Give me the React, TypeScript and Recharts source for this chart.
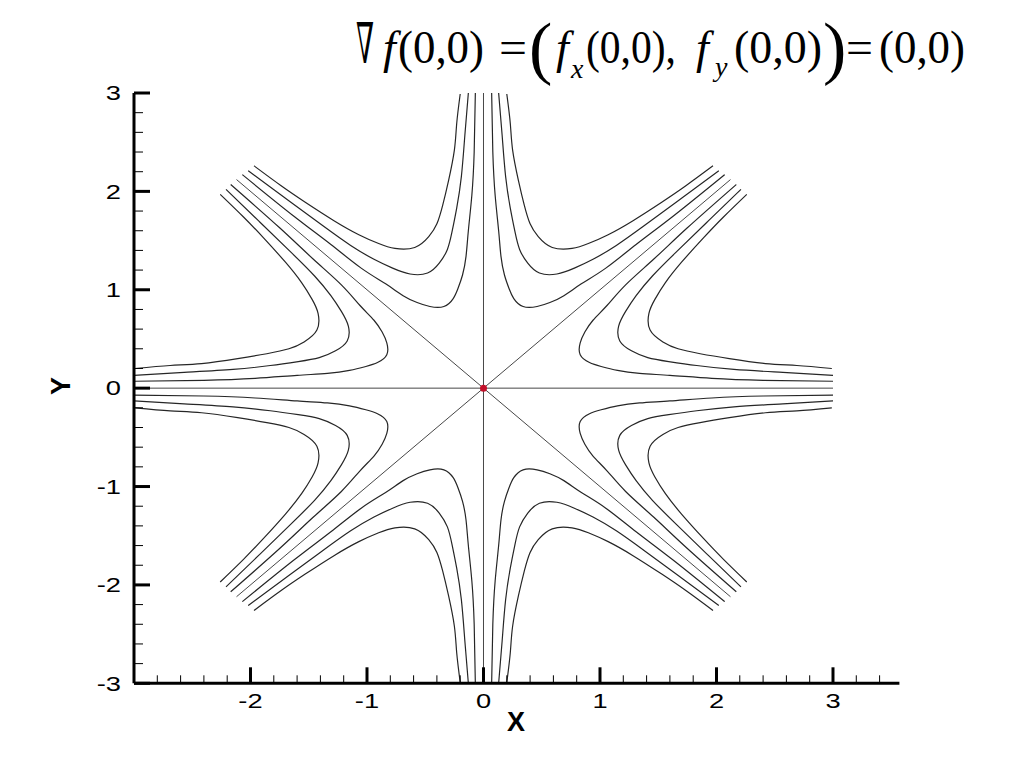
import React from 'react';
import { LineChart, Line, XAxis, YAxis, ReferenceDot } from 'recharts';

type P = [number, number];

// contour curves (three levels in each of the eight sectors)
const ene1: P[] = [[3.00,0.07],[2.40,0.08],[1.96,0.10],[1.60,0.13],[1.34,0.15],[1.15,0.18],[1.01,0.22],[0.91,0.26],[0.83,0.34],[0.83,0.46],[0.87,0.57],[0.94,0.69],[1.06,0.84],[1.22,1.05],[1.46,1.31],[1.75,1.63],[2.17,2.07]];
const ene2: P[] = [[3.00,0.13],[2.57,0.16],[2.15,0.19],[1.83,0.23],[1.59,0.27],[1.41,0.31],[1.27,0.38],[1.17,0.48],[1.16,0.63],[1.22,0.78],[1.31,0.94],[1.45,1.14],[1.66,1.39],[1.93,1.70],[2.21,2.02]];
const ene3: P[] = [[2.99,0.20],[2.69,0.23],[2.42,0.25],[2.11,0.30],[1.86,0.35],[1.67,0.40],[1.54,0.47],[1.43,0.59],[1.42,0.76],[1.47,0.90],[1.56,1.07],[1.70,1.28],[1.89,1.53],[2.06,1.74],[2.26,1.97]];

const nne1: P[] = [[0.07,3.00],[0.08,2.40],[0.10,1.96],[0.13,1.60],[0.15,1.34],[0.18,1.15],[0.22,1.01],[0.26,0.91],[0.34,0.83],[0.46,0.83],[0.57,0.87],[0.69,0.94],[0.84,1.06],[1.05,1.22],[1.31,1.46],[1.63,1.75],[2.07,2.17]];
const nne2: P[] = [[0.13,3.00],[0.16,2.57],[0.19,2.15],[0.23,1.83],[0.27,1.59],[0.31,1.41],[0.38,1.27],[0.48,1.17],[0.63,1.16],[0.78,1.22],[0.94,1.31],[1.14,1.45],[1.39,1.66],[1.70,1.93],[2.02,2.21]];
const nne3: P[] = [[0.20,2.99],[0.23,2.69],[0.25,2.42],[0.30,2.11],[0.35,1.86],[0.40,1.67],[0.47,1.54],[0.59,1.43],[0.76,1.42],[0.90,1.47],[1.07,1.56],[1.28,1.70],[1.53,1.89],[1.74,2.06],[1.97,2.26]];

const nnw1: P[] = [[-0.07,3.00],[-0.08,2.40],[-0.10,1.96],[-0.13,1.60],[-0.15,1.34],[-0.18,1.15],[-0.22,1.01],[-0.26,0.91],[-0.34,0.83],[-0.46,0.83],[-0.57,0.87],[-0.69,0.94],[-0.84,1.06],[-1.05,1.22],[-1.31,1.46],[-1.63,1.75],[-2.07,2.17]];
const nnw2: P[] = [[-0.13,3.00],[-0.16,2.57],[-0.19,2.15],[-0.23,1.83],[-0.27,1.59],[-0.31,1.41],[-0.38,1.27],[-0.48,1.17],[-0.63,1.16],[-0.78,1.22],[-0.94,1.31],[-1.14,1.45],[-1.39,1.66],[-1.70,1.93],[-2.02,2.21]];
const nnw3: P[] = [[-0.20,2.99],[-0.23,2.69],[-0.25,2.42],[-0.30,2.11],[-0.35,1.86],[-0.40,1.67],[-0.47,1.54],[-0.59,1.43],[-0.76,1.42],[-0.90,1.47],[-1.07,1.56],[-1.28,1.70],[-1.53,1.89],[-1.74,2.06],[-1.97,2.26]];

const wnw1: P[] = [[-3.00,0.07],[-2.40,0.08],[-1.96,0.10],[-1.60,0.13],[-1.34,0.15],[-1.15,0.18],[-1.01,0.22],[-0.91,0.26],[-0.83,0.34],[-0.83,0.46],[-0.87,0.57],[-0.94,0.69],[-1.06,0.84],[-1.22,1.05],[-1.46,1.31],[-1.75,1.63],[-2.17,2.07]];
const wnw2: P[] = [[-3.00,0.13],[-2.57,0.16],[-2.15,0.19],[-1.83,0.23],[-1.59,0.27],[-1.41,0.31],[-1.27,0.38],[-1.17,0.48],[-1.16,0.63],[-1.22,0.78],[-1.31,0.94],[-1.45,1.14],[-1.66,1.39],[-1.93,1.70],[-2.21,2.02]];
const wnw3: P[] = [[-2.99,0.20],[-2.69,0.23],[-2.42,0.25],[-2.11,0.30],[-1.86,0.35],[-1.67,0.40],[-1.54,0.47],[-1.43,0.59],[-1.42,0.76],[-1.47,0.90],[-1.56,1.07],[-1.70,1.28],[-1.89,1.53],[-2.06,1.74],[-2.26,1.97]];

const wsw1: P[] = [[-3.00,-0.07],[-2.40,-0.08],[-1.96,-0.10],[-1.60,-0.13],[-1.34,-0.15],[-1.15,-0.18],[-1.01,-0.22],[-0.91,-0.26],[-0.83,-0.34],[-0.83,-0.46],[-0.87,-0.57],[-0.94,-0.69],[-1.06,-0.84],[-1.22,-1.05],[-1.46,-1.31],[-1.75,-1.63],[-2.17,-2.07]];
const wsw2: P[] = [[-3.00,-0.13],[-2.57,-0.16],[-2.15,-0.19],[-1.83,-0.23],[-1.59,-0.27],[-1.41,-0.31],[-1.27,-0.38],[-1.17,-0.48],[-1.16,-0.63],[-1.22,-0.78],[-1.31,-0.94],[-1.45,-1.14],[-1.66,-1.39],[-1.93,-1.70],[-2.21,-2.02]];
const wsw3: P[] = [[-2.99,-0.20],[-2.69,-0.23],[-2.42,-0.25],[-2.11,-0.30],[-1.86,-0.35],[-1.67,-0.40],[-1.54,-0.47],[-1.43,-0.59],[-1.42,-0.76],[-1.47,-0.90],[-1.56,-1.07],[-1.70,-1.28],[-1.89,-1.53],[-2.06,-1.74],[-2.26,-1.97]];

const ssw1: P[] = [[-0.07,-3.00],[-0.08,-2.40],[-0.10,-1.96],[-0.13,-1.60],[-0.15,-1.34],[-0.18,-1.15],[-0.22,-1.01],[-0.26,-0.91],[-0.34,-0.83],[-0.46,-0.83],[-0.57,-0.87],[-0.69,-0.94],[-0.84,-1.06],[-1.05,-1.22],[-1.31,-1.46],[-1.63,-1.75],[-2.07,-2.17]];
const ssw2: P[] = [[-0.13,-3.00],[-0.16,-2.57],[-0.19,-2.15],[-0.23,-1.83],[-0.27,-1.59],[-0.31,-1.41],[-0.38,-1.27],[-0.48,-1.17],[-0.63,-1.16],[-0.78,-1.22],[-0.94,-1.31],[-1.14,-1.45],[-1.39,-1.66],[-1.70,-1.93],[-2.02,-2.21]];
const ssw3: P[] = [[-0.20,-2.99],[-0.23,-2.69],[-0.25,-2.42],[-0.30,-2.11],[-0.35,-1.86],[-0.40,-1.67],[-0.47,-1.54],[-0.59,-1.43],[-0.76,-1.42],[-0.90,-1.47],[-1.07,-1.56],[-1.28,-1.70],[-1.53,-1.89],[-1.74,-2.06],[-1.97,-2.26]];

const sse1: P[] = [[0.07,-3.00],[0.08,-2.40],[0.10,-1.96],[0.13,-1.60],[0.15,-1.34],[0.18,-1.15],[0.22,-1.01],[0.26,-0.91],[0.34,-0.83],[0.46,-0.83],[0.57,-0.87],[0.69,-0.94],[0.84,-1.06],[1.05,-1.22],[1.31,-1.46],[1.63,-1.75],[2.07,-2.17]];
const sse2: P[] = [[0.13,-3.00],[0.16,-2.57],[0.19,-2.15],[0.23,-1.83],[0.27,-1.59],[0.31,-1.41],[0.38,-1.27],[0.48,-1.17],[0.63,-1.16],[0.78,-1.22],[0.94,-1.31],[1.14,-1.45],[1.39,-1.66],[1.70,-1.93],[2.02,-2.21]];
const sse3: P[] = [[0.20,-2.99],[0.23,-2.69],[0.25,-2.42],[0.30,-2.11],[0.35,-1.86],[0.40,-1.67],[0.47,-1.54],[0.59,-1.43],[0.76,-1.42],[0.90,-1.47],[1.07,-1.56],[1.28,-1.70],[1.53,-1.89],[1.74,-2.06],[1.97,-2.26]];

const ese1: P[] = [[3.00,-0.07],[2.40,-0.08],[1.96,-0.10],[1.60,-0.13],[1.34,-0.15],[1.15,-0.18],[1.01,-0.22],[0.91,-0.26],[0.83,-0.34],[0.83,-0.46],[0.87,-0.57],[0.94,-0.69],[1.06,-0.84],[1.22,-1.05],[1.46,-1.31],[1.75,-1.63],[2.17,-2.07]];
const ese2: P[] = [[3.00,-0.13],[2.57,-0.16],[2.15,-0.19],[1.83,-0.23],[1.59,-0.27],[1.41,-0.31],[1.27,-0.38],[1.17,-0.48],[1.16,-0.63],[1.22,-0.78],[1.31,-0.94],[1.45,-1.14],[1.66,-1.39],[1.93,-1.70],[2.21,-2.02]];
const ese3: P[] = [[2.99,-0.20],[2.69,-0.23],[2.42,-0.25],[2.11,-0.30],[1.86,-0.35],[1.67,-0.40],[1.54,-0.47],[1.43,-0.59],[1.42,-0.76],[1.47,-0.90],[1.56,-1.07],[1.70,-1.28],[1.89,-1.53],[2.06,-1.74],[2.26,-1.97]];

// zero-level contour lines
const zeroHorizontal: P[] = [[-3, 0], [3, 0]];
const zeroVertical: P[] = [[0, -3], [0, 3]];
const zeroDiagUp: P[] = [[-2.12, -2.12], [2.12, 2.12]];
const zeroDiagDown: P[] = [[-2.12, 2.12], [2.12, -2.12]];

// ticks
const xMajorTicks = [-2, -1, 0, 1, 2, 3];
const xMinorTicks = [-2.8, -2.6, -2.4, -2.2, -1.8, -1.6, -1.4, -1.2, -0.8, -0.6, -0.4, -0.2, 0.2, 0.4, 0.6, 0.8, 1.2, 1.4, 1.6, 1.8, 2.2, 2.4, 2.6, 2.8, 3.2, 3.4];
const yMajorTicks = [-3, -2, -1, 0, 1, 2, 3];
const yMinorTicks = [-2.8, -2.6, -2.4, -2.2, -1.8, -1.6, -1.4, -1.2, -0.8, -0.6, -0.4, -0.2, 0.2, 0.4, 0.6, 0.8, 1.2, 1.4, 1.6, 1.8, 2.2, 2.4, 2.6, 2.8];

const contours: { id: string; pts: P[] }[] = [
  { id: 'ene1', pts: ene1 }, { id: 'ene2', pts: ene2 }, { id: 'ene3', pts: ene3 },
  { id: 'nne1', pts: nne1 }, { id: 'nne2', pts: nne2 }, { id: 'nne3', pts: nne3 },
  { id: 'nnw1', pts: nnw1 }, { id: 'nnw2', pts: nnw2 }, { id: 'nnw3', pts: nnw3 },
  { id: 'wnw1', pts: wnw1 }, { id: 'wnw2', pts: wnw2 }, { id: 'wnw3', pts: wnw3 },
  { id: 'wsw1', pts: wsw1 }, { id: 'wsw2', pts: wsw2 }, { id: 'wsw3', pts: wsw3 },
  { id: 'ssw1', pts: ssw1 }, { id: 'ssw2', pts: ssw2 }, { id: 'ssw3', pts: ssw3 },
  { id: 'sse1', pts: sse1 }, { id: 'sse2', pts: sse2 }, { id: 'sse3', pts: sse3 },
  { id: 'ese1', pts: ese1 }, { id: 'ese2', pts: ese2 }, { id: 'ese3', pts: ese3 },
];

const zeroLines: { id: string; pts: P[] }[] = [
  { id: 'zh', pts: zeroHorizontal },
  { id: 'zv', pts: zeroVertical },
  { id: 'zd1', pts: zeroDiagUp },
  { id: 'zd2', pts: zeroDiagDown },
];

const toRows = (pts: P[]) => pts.map(([x, y]) => ({ x, y }));

const SANS = "'Liberation Sans', Arial, Helvetica, sans-serif";
const SERIF = "'Liberation Serif', 'Times New Roman', serif";

const XTick = (props: any) => {
  const { x, y, payload } = props;
  const v = payload.value as number;
  const major = xMajorTicks.includes(v);
  return (
    <g>
      <line x1={x} x2={x} y1={y} y2={y - (major ? 16 : 8)} stroke="#000" strokeWidth={major ? 3 : 1} />
      {major && (
        <text
          transform={`translate(${x},${y + 17}) scale(1.3,1)`}
          x={0}
          y={0}
          textAnchor="middle"
          dominantBaseline="central"
          fontFamily={SANS}
          fontSize={21}
          fill="#000"
        >
          {String(v)}
        </text>
      )}
    </g>
  );
};

const YTick = (props: any) => {
  const { x, y, payload } = props;
  const v = payload.value as number;
  const major = yMajorTicks.includes(v);
  return (
    <g>
      <line x1={x} x2={x + (major ? 16 : 9)} y1={y} y2={y} stroke="#000" strokeWidth={major ? 3 : 1} />
      {major && (
        <text
          transform={`translate(${x - 13},${y}) scale(1.3,1)`}
          x={0}
          y={0}
          textAnchor="end"
          dominantBaseline="central"
          fontFamily={SANS}
          fontSize={21}
          fill="#000"
        >
          {String(v)}
        </text>
      )}
    </g>
  );
};

export default function App() {
  const xTicks = [...xMinorTicks, ...xMajorTicks].sort((a, b) => a - b);
  const yTicks = [...yMinorTicks, ...yMajorTicks].sort((a, b) => a - b);
  return (
    <div style={{ position: 'relative', width: 1008, height: 752, background: '#fff' }}>
      <LineChart width={1000} height={740} margin={{ top: 85, right: 108.6, bottom: 24.7, left: 66 }}>
        <XAxis
          type="number"
          dataKey="x"
          domain={[-3, 3.57]}
          allowDataOverflow
          ticks={xTicks}
          interval={0}
          tick={(p: any) => <XTick {...p} />}
          tickLine={false}
          tickSize={0}
          tickMargin={0}
          axisLine={{ stroke: '#000', strokeWidth: 3 }}
          height={40}
        />
        <YAxis
          type="number"
          domain={[-3, 3]}
          allowDataOverflow
          ticks={yTicks}
          interval={0}
          tick={(p: any) => <YTick {...p} />}
          tickLine={false}
          tickSize={0}
          tickMargin={0}
          axisLine={{ stroke: '#000', strokeWidth: 3 }}
          width={60}
        />
        {zeroLines.map((z) => (
          <Line
            key={z.id}
            data={toRows(z.pts)}
            dataKey="y"
            type="linear"
            stroke="#474747"
            strokeWidth={1}
            dot={false}
            activeDot={false}
            isAnimationActive={false}
          />
        ))}
        {contours.map((c) => (
          <Line
            key={c.id}
            data={toRows(c.pts)}
            dataKey="y"
            type="natural"
            stroke="#262626"
            strokeWidth={1.2}
            dot={false}
            activeDot={false}
            isAnimationActive={false}
          />
        ))}
        <ReferenceDot x={0} y={0} r={3.5} fill="#c3102a" stroke="none" />
      </LineChart>
      <svg
        width={1024}
        height={768}
        style={{ position: 'absolute', left: -8, top: -8, pointerEvents: 'none' }}
      >
        <g fontFamily={SERIF} fill="#000">
          <text transform="translate(356,63) scale(0.46,1)" x={0} y={0} fontSize={56} fontFamily="'DejaVu Serif', serif">∇</text>
          <text x={383} y={63} fontSize={46} fontStyle="italic">f</text>
          <text x={398} y={63} fontSize={46} textLength={86} lengthAdjust="spacingAndGlyphs">(0,0)</text>
          <text x={499} y={63} fontSize={46} textLength={28} lengthAdjust="spacingAndGlyphs">=</text>
          <text x={529} y={71} fontSize={70}>(</text>
          <text x={556} y={63} fontSize={46} fontStyle="italic">f</text>
          <text x={571} y={78} fontSize={28} fontStyle="italic">x</text>
          <text x={586} y={63} fontSize={46} textLength={90} lengthAdjust="spacingAndGlyphs">(0,0),</text>
          <text x={696} y={63} fontSize={46} fontStyle="italic">f</text>
          <text x={715} y={76} fontSize={28} fontStyle="italic">y</text>
          <text x={734} y={63} fontSize={46} textLength={88} lengthAdjust="spacingAndGlyphs">(0,0)</text>
          <text x={823} y={71} fontSize={70}>)</text>
          <text x={846} y={63} fontSize={46} textLength={27} lengthAdjust="spacingAndGlyphs">=</text>
          <text x={879} y={63} fontSize={46} textLength={86} lengthAdjust="spacingAndGlyphs">(0,0)</text>
        </g>
        <text x={516} y={722} textAnchor="middle" dominantBaseline="central" fontFamily={SANS} fontWeight="bold" fontSize={27}>X</text>
        <text
          x={61}
          y={386}
          textAnchor="middle"
          dominantBaseline="central"
          fontFamily={SANS}
          fontWeight="bold"
          fontSize={27}
          transform="rotate(-90 61 386)"
        >
          Y
        </text>
      </svg>
    </div>
  );
}
